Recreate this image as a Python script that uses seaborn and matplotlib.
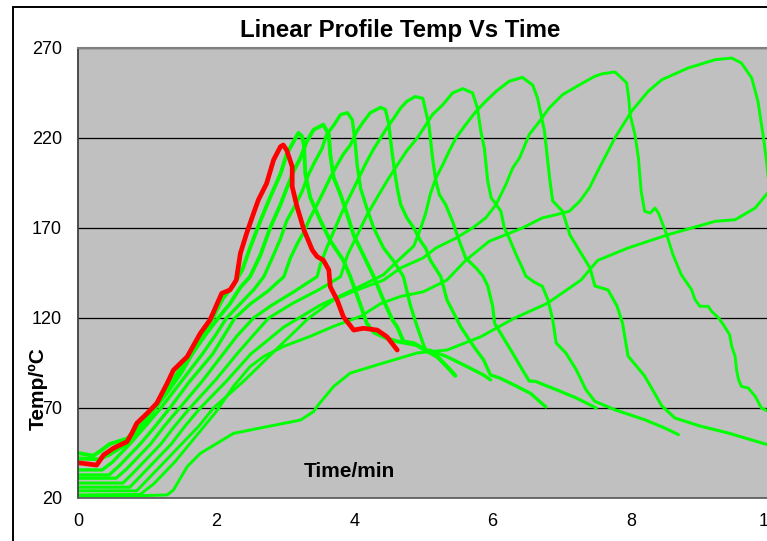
import matplotlib
matplotlib.use("Agg")
import matplotlib.pyplot as plt
import seaborn as sns
from matplotlib.patches import Rectangle

# ---- data: (time/min, temp/°C) ----
red_run = [(0,39.6),(0.27,38.3),(0.37,43.9),(0.51,47.6),(0.71,51.3),(0.78,56),(0.85,61.5),(1.0,67),
           (1.14,72.6),(1.29,83.7),(1.38,91),(1.58,98.5),(1.77,111.5),(1.91,118.9),(2.08,133.7),(2.2,135.6),
           (2.29,141),(2.35,155.9),(2.44,167),(2.54,178.1),(2.61,185.6),(2.73,194.8),(2.83,207.8),(2.93,215.2),
           (2.97,216.1),(3.02,213.3),(3.1,204.1),(3.1,193),(3.17,181.8),(3.27,168.9),(3.39,157.8),(3.46,154.1),
           (3.55,152.2),(3.63,146.7),(3.65,137.4),(3.75,130),(3.84,120.7),(3.99,113.3),(4.13,114.3),(4.33,113.3),
           (4.47,109.6),(4.62,102.2)]

g1 = [(0,45),(0.22,43.5),(0.32,46),(0.46,50),(0.71,53),(0.85,58),(0.99,65),(1.15,72),(1.3,81),(1.45,90),
      (1.6,98),(1.78,110),(1.95,120),(2.1,131),(2.25,138),(2.38,147),(2.49,159),(2.64,174),(2.78,187),(2.93,200),
      (3.02,211),(3.12,218),(3.19,222.8),(3.24,221),(3.27,216),(3.29,200),(3.36,187),(3.51,174),(3.65,163),
      (3.84,152),(3.94,143),(4.09,127),(4.18,117),(4.28,112),(4.45,109),(4.62,107),(4.76,106),(4.9,105),
      (5.05,102),(5.2,98.5),(5.34,93),(5.46,88)]
g2 = [(0,42),(0.3,41.5),(0.45,44),(0.7,50),(0.9,58),(1.12,70),(1.3,79),(1.5,90),(1.65,100),(1.85,111),
      (2.03,120),(2.2,128),(2.35,137),(2.49,143),(2.64,155),(2.78,170),(2.93,183),(3.02,192),(3.12,201.5),
      (3.22,209),(3.31,218),(3.41,224.6),(3.55,227.4),(3.63,222),(3.65,211),(3.7,198),(3.8,188.5),(3.9,177),
      (3.99,166),(4.13,155),(4.28,143),(4.42,130),(4.55,119),(4.62,115),(4.71,107),(4.86,106),(5.03,102),
      (5.2,98.5),(5.34,93),(5.46,88)]
g3 = [(0,35.6),(0.35,35.6),(0.5,40),(0.75,50),(1.0,61),(1.2,70),(1.5,85),(1.8,100),(2.0,111),(2.15,120),
      (2.35,128),(2.55,136),(2.69,143),(2.83,155),(2.93,164),(3.02,174),(3.12,181),(3.24,190),(3.34,200),
      (3.43,207),(3.53,214),(3.6,222),(3.7,227),(3.8,233),(3.9,234),(3.97,230),(4.01,218),(4.04,205),(4.09,192),
      (4.18,181),(4.28,170),(4.42,159),(4.57,151.5),(4.71,143),(4.81,127),(4.91,115),(5.03,102),(5.1,102),
      (5.34,98.5),(5.63,93),(5.87,88.3),(5.97,85.6)]
g4 = [(0,32.8),(0.45,32.8),(0.6,38),(0.9,50),(1.1,59),(1.33,70),(1.6,84),(1.95,100),(2.27,120),(2.5,128),
      (2.75,135),(2.98,143),(3.07,153),(3.17,161),(3.27,168),(3.36,175.6),(3.46,183),(3.55,190),(3.65,198),
      (3.75,205),(3.84,211),(3.94,216),(4.04,224),(4.13,229),(4.23,234),(4.38,237),(4.45,235.7),(4.5,227.4),
      (4.52,220),(4.55,210.7),(4.59,199.6),(4.62,192.2),(4.67,183),(4.76,175.6),(4.86,170),(4.96,162.6),
      (5.03,158.9),(5.1,152),(5.25,143),(5.34,130),(5.54,115),(5.73,104),(5.87,96.7),(5.97,88.3),(6.1,86.7),
      (6.31,82.8),(6.55,78.1),(6.77,70.6)]
g5 = [(0,31),(0.55,31),(0.7,36),(1.05,50),(1.25,60),(1.47,70),(1.8,85),(2.1,100),(2.3,110),(2.54,120),
      (2.8,127),(3.1,134),(3.3,139),(3.46,143),(3.51,150),(3.6,159),(3.7,168),(3.8,177),(3.9,185),(3.99,192),
      (4.09,200),(4.18,207),(4.28,214),(4.38,220),(4.47,225.6),(4.57,231),(4.67,236.7),(4.76,240.4),(4.88,243),
      (4.99,242),(5.08,227),(5.13,209),(5.18,196),(5.23,188.5),(5.32,183),(5.42,173.7),(5.52,162.6),(5.61,153.3),
      (5.76,147.8),(5.86,143.3),(5.93,137.8),(6.0,126.7),(6.03,117),(6.14,110),(6.29,100.5),(6.43,91.3),
      (6.53,85),(6.62,84.8),(6.92,80.2),(7.21,75.6),(7.5,70)]
g6 = [(0,28.3),(0.65,28.3),(0.8,34),(1.2,50),(1.4,60),(1.62,70),(2.0,86),(2.3,100),(2.55,111),(2.76,120),
      (3.1,128),(3.5,136),(3.8,143),(3.9,155),(4.04,166),(4.18,177),(4.33,187),(4.47,196),(4.62,205),(4.76,213),
      (4.91,220),(5.03,227),(5.13,233),(5.28,238.5),(5.42,245),(5.57,247.4),(5.71,245),(5.78,236.7),(5.83,223.7),
      (5.88,214.4),(5.93,196),(5.98,186.7),(6.02,184.8),(6.12,179.3),(6.17,170),(6.24,164.4),(6.34,155.2),
      (6.43,147.8),(6.48,143.3),(6.6,140),(6.72,137.6),(6.8,130.2),(6.87,119.1),(6.92,106.1),(7.06,100.6),
      (7.21,91.3),(7.35,80.2),(7.48,73.7),(7.77,69),(8.2,63.5),(8.49,58.9),(8.69,55.2)]
g7 = [(0,26),(0.75,26),(0.9,32),(1.35,50),(1.55,60),(1.77,70),(2.15,85),(2.5,100),(2.98,115),(3.5,127),
      (4.0,136),(4.42,144),(4.62,151.5),(4.86,160),(4.96,170),(5.03,178),(5.1,189),(5.18,197.8),(5.28,205.2),
      (5.37,212.6),(5.47,220),(5.61,227.4),(5.76,234.8),(5.9,240.4),(6.05,245.9),(6.24,251.5),(6.43,253.7),
      (6.58,249.4),(6.65,242.2),(6.75,223.9),(6.83,196.1),(6.87,185),(7.01,179.4),(7.12,166.1),(7.26,157.2),
      (7.41,147.8),(7.48,137.8),(7.67,135.6),(7.8,126.7),(7.88,117.2),(7.96,98.9),(8.2,87.8),(8.45,71.1),
      (8.64,64.4),(9.0,60),(9.41,56.1),(10.0,49.4),(10.2,47)]
g8 = [(0,24),(0.85,24),(1.0,30),(1.5,50),(1.75,60),(1.96,70),(2.4,85),(2.8,100),(3.34,120),(3.7,130),
      (4.0,135),(4.42,141),(4.67,147.8),(4.99,153.3),(5.18,158.9),(5.47,164.4),(5.71,170),(5.9,175.6),
      (6.05,183),(6.19,194),(6.29,203.3),(6.39,208.9),(6.53,221.9),(6.68,229.3),(6.82,236.7),(7.01,244),
      (7.26,249.6),(7.48,254.3),(7.58,255.6),(7.77,256.7),(7.84,254.3),(7.94,250.6),(7.97,242.2),(7.99,233),
      (8.06,221.9),(8.11,208.9),(8.15,190.4),(8.2,179.3),(8.28,178.3),(8.35,181.1),(8.4,178.3),(8.52,166.3),
      (8.61,155.2),(8.73,144.1),(8.88,135.7),(8.93,130.2),(9.0,126.5),(9.12,126.5),(9.17,123.7),(9.27,120),
      (9.34,116.3),(9.43,110.7),(9.46,104.3),(9.51,98.7),(9.53,91.3),(9.56,85.7),(9.6,82),(9.7,81.1),
      (9.8,76.5),(9.84,73.7),(9.89,70),(9.99,68.2),(10.2,66)]
g9 = [(0,21.7),(0.9,22),(1.1,28),(1.4,40),(1.7,54),(2.0,68),(2.25,82),(2.49,93),(2.69,98.7),(2.98,104.3),
      (3.36,109.8),(3.7,115.4),(4.09,120.9),(4.38,128),(4.67,132),(5.0,134.6),(5.34,141.1),(5.61,152),
      (5.95,162.6),(6.19,166.3),(6.43,170),(6.72,175.6),(6.92,177.4),(7.11,179.3),(7.26,184.8),(7.4,192.2),
      (7.52,201.5),(7.62,208.9),(7.77,220),(8.01,234.8),(8.25,245.9),(8.45,252.4),(8.83,258.9),(9.22,263.5),
      (9.46,264.4),(9.6,261.7),(9.75,253.3),(9.84,240.4),(9.92,220),(9.97,205.2),(10.0,192),(10.05,180)]
g10 = [(0,20.4),(1.29,21.7),(1.38,24.4),(1.58,37.4),(1.77,44.8),(2.25,55.9),(2.73,59.6),(3.22,63.3),
       (3.41,68),(3.46,70.9),(3.7,82),(3.94,89.4),(4.42,95),(4.91,100.6),(5.34,102.2),(5.83,109.6),
       (6.31,119.8),(6.79,128.1),(7.28,141.1),(7.52,152),(7.96,158.9),(8.54,166.3),(9.22,173.7),
       (9.51,174.6),(9.8,181.1),(10.0,190.4),(10.1,198)]

green_runs = [g1, g2, g3, g4, g5, g6, g7, g8, g9, g10]
green_widths = [2.8, 2.8, 2.4, 2.4, 2.3, 2.2, 2.2, 2.1, 2.1, 2.1]

x_ticks = [0, 2, 4, 6, 8, 10]
y_ticks = [20, 70, 120, 170, 220, 270]

title = "Linear Profile Temp Vs Time"
x_label = "Time/min"
y_label = "Temp/ºC"

# ---- figure ----
W, H = 767, 541
sns.set_style("white")
plt.rcParams['font.family'] = ['Liberation Sans', 'DejaVu Sans']
plt.rcParams['text.color'] = 'black'
plt.rcParams['xtick.color'] = 'black'
plt.rcParams['ytick.color'] = 'black'
fig = plt.figure(figsize=(W / 100, H / 100), dpi=100)

# outer chart-area frame (extends off the right/bottom edges like the reference)
fig.patches.append(Rectangle((13 / W, -0.1), 1.2, 1 - 7 / H + 0.1, transform=fig.transFigure,
                             fill=False, edgecolor='black', lw=1.4, zorder=0))

ax = fig.add_axes([78 / W, 43 / H, 691 / W, 450 / H])
ax.set_facecolor('#C0C0C0')

for run, lw in zip(green_runs, green_widths):
    t, T = zip(*run)
    sns.lineplot(x=list(t), y=list(T), sort=False, estimator=None, color='#00FF00',
                 lw=lw, ax=ax, legend=False)
rt, rT = zip(*red_run)
sns.lineplot(x=list(rt), y=list(rT), sort=False, estimator=None, color='#FF0000',
             lw=3.4, ax=ax, legend=False)

ax.set_xlim(0, 10)
ax.set_ylim(20, 270)
ax.set_xticks(x_ticks)
ax.set_xticklabels([str(v) for v in x_ticks])
ax.set_yticks(y_ticks)
ax.set_yticklabels([str(v) for v in y_ticks])
ax.set_xlabel("")
ax.set_ylabel("")

ax.set_axisbelow(True)
ax.yaxis.grid(True, color='black', lw=0.9)
ax.xaxis.grid(False)

ax.spines['left'].set_color('#404040')
ax.spines['left'].set_linewidth(1.3)
ax.spines['bottom'].set_color('#606060')
ax.spines['bottom'].set_linewidth(1.3)
ax.spines['top'].set_color('#808080')
ax.spines['top'].set_linewidth(1.5)
ax.spines['right'].set_visible(False)

ax.tick_params(axis='both', direction='out', length=4.5, width=1, color='#404040',
               labelsize=13, labelcolor='black')
ax.tick_params(axis='y', pad=7)
ax.tick_params(axis='x', pad=6)

fig.text(400 / W, 1 - 36.7 / H, title, ha='center', va='baseline', color='black',
         fontsize=17.3, fontweight='bold')
fig.text(349 / W, 1 - 477 / H, x_label, ha='center', va='baseline', color='black',
         fontsize=15, fontweight='bold', zorder=10)
fig.text(38 / W, 1 - 389 / H, y_label, rotation=90, ha='center', va='center', color='black',
         fontsize=15, fontweight='bold', zorder=10)

fig.savefig("out.png", dpi=100)
